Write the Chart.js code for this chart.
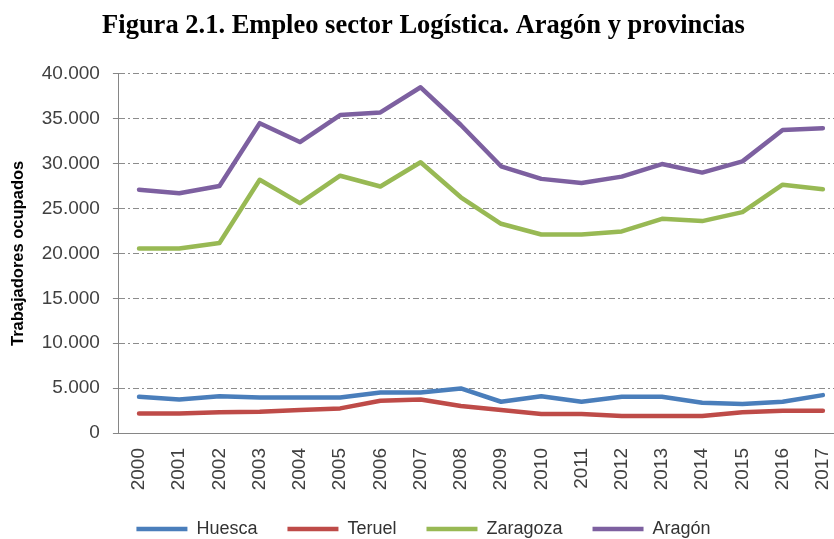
<!DOCTYPE html>
<html lang="es">
<head>
<meta charset="UTF-8">
<title>Empleo sector Logística</title>
<script src="https://cdn.jsdelivr.net/npm/chart.js"></script>
<style>
  html, body { margin: 0; padding: 0; background: #fff; overflow: hidden; }
  canvas { display: block; }
</style>
</head>
<body>
<canvas id="grafico" width="843" height="548"></canvas>
<script>
// datos (trabajadores ocupados)
const years = ['2000','2001','2002','2003','2004','2005','2006','2007','2008',
               '2009','2010','2011','2012','2013','2014','2015','2016','2017'];
const huesca   = [4030, 3740, 4100, 3960, 3960, 3960, 4520, 4520, 4960, 3480, 4100, 3480, 4030, 4030, 3370, 3220, 3480, 4220];
const teruel   = [2180, 2180, 2300, 2370, 2550, 2740, 3590, 3740, 3000, 2550, 2110, 2110, 1890, 1890, 1890, 2300, 2480, 2480];
const zaragoza = [20550, 20550, 21150, 28200, 25600, 28650, 27450, 30150, 26250, 23300, 22100, 22100, 22450, 23850, 23600, 24600, 27650, 27150];
const aragon   = [27100, 26700, 27500, 34500, 32400, 35400, 35700, 38500, 34300, 29700, 28300, 27850, 28550, 29950, 29000, 30250, 33750, 33950];
const yMin = 0, yMax = 40000, yStep = 5000;

function fmt(v) {
    return String(v).replace(/\B(?=(\d{3})+(?!\d))/g, '.');
}

function serie(label, data, color) {
    return {
        label: label,
        data: data,
        borderColor: color,
        backgroundColor: color,
        borderWidth: 4.5,
        borderCapStyle: 'round',
        borderJoinStyle: 'round',
        pointRadius: 0,
        tension: 0,
        fill: false
    };
}

Chart.defaults.font.family = "'Liberation Sans', Arial, sans-serif";

new Chart(document.getElementById('grafico'), {
    type: 'line',
    data: {
        labels: years,
        datasets: [
            serie('Huesca', huesca, '#4a7ebb'),
            serie('Teruel', teruel, '#be4b48'),
            serie('Zaragoza', zaragoza, '#98b954'),
            serie('Aragón', aragon, '#7d60a0')
        ]
    },
    options: {
        responsive: false,
        animation: false,
        layout: { padding: { left: 4, right: 0, top: 0, bottom: 0 } },
        scales: {
            x: {
                offset: true,
                grid: { display: true, color: 'rgba(0,0,0,0)', drawTicks: false },
                border: { display: true, color: '#868686', width: 1 },
                ticks: {
                    color: '#404040',
                    font: { size: 19 },
                    minRotation: 90,
                    maxRotation: 90,
                    padding: 15,
                    autoSkip: false
                },
                // alto fijo del eje y sin margen lateral: el area llega hasta el borde como en el original
                afterFit: function (scale) {
                    scale.height = 57;
                    scale.paddingLeft = 0;
                    scale.paddingRight = 0;
                }
            },
            y: {
                min: yMin,
                max: yMax,
                grid: {
                    color: '#8c8c8c',
                    lineWidth: 1,
                    tickLength: 6,
                    tickColor: '#868686',
                    tickBorderDash: []
                },
                // en v4 border.dash es el trazo de las lineas de rejilla
                border: { display: true, color: '#868686', width: 1, dash: [6, 3, 2, 3] },
                ticks: {
                    stepSize: yStep,
                    color: '#404040',
                    font: { size: 19 },
                    padding: 13,
                    callback: function (v) { return fmt(v); }
                },
                title: {
                    display: true,
                    text: 'Trabajadores ocupados',
                    color: '#000',
                    font: { size: 16.5, weight: 'bold' },
                    padding: { top: 5, bottom: 0 }
                }
            }
        },
        plugins: {
            title: {
                display: true,
                text: 'Figura 2.1. Empleo sector Logística. Aragón y provincias',
                color: '#000',
                font: { family: "'Liberation Serif', 'Times New Roman', serif", size: 26.5, weight: 'bold' },
                padding: { top: 10, bottom: 32 }
            },
            legend: {
                position: 'bottom',
                labels: {
                    color: '#333',
                    font: { size: 18 },
                    usePointStyle: true,
                    pointStyle: 'line',
                    pointStyleWidth: 51,
                    boxHeight: 5,
                    padding: 30
                }
            },
            tooltip: { enabled: false }
        }
    }
});
</script>
</body>
</html>
